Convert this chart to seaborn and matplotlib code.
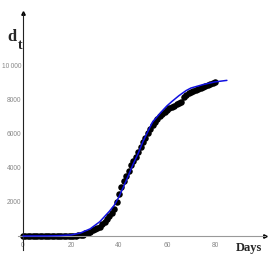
import numpy as np
import pandas as pd
import seaborn as sns
import matplotlib.pyplot as plt
from matplotlib.ticker import MultipleLocator

# observed cumulative values, day 0..80
days = list(range(0, 81))
observed = [0, 0, 0, 0, 0, 0, 0, 0, 0, 0,
            0, 0, 0, 0, 0, 0, 0, 0, 0, 0,
            5, 10, 20, 30, 50, 80, 150, 200, 260, 330,
            400, 470, 550, 680, 830, 1000, 1180, 1350, 1600, 2000,
            2450, 2900, 3250, 3550, 3850, 4150, 4400, 4650, 4950, 5250,
            5520, 5780, 6030, 6280, 6500, 6700, 6880, 7050, 7200, 7300,
            7400, 7500, 7580, 7660, 7740, 7820, 7900, 8150, 8300, 8380,
            8450, 8520, 8580, 8640, 8690, 8740, 8790, 8850, 8910, 8970,
            9030]

# fitted curve
fit_days = [0, 10, 15, 20, 24, 28, 32, 36, 38, 40, 43, 46, 48, 50, 54,
            58, 60, 62, 65, 68, 70, 75, 80, 85]
fit_vals = [0, 5, 20, 60, 180, 420, 840, 1450, 1800, 2300, 3250, 4250,
            4850, 5550, 6700, 7350, 7650, 7900, 8250, 8550, 8700, 8900,
            9060, 9150]

y_ticks = [2000, 4000, 6000, 8000, 10000]
y_tick_labels = ['2000', '4000', '6000', '8000', '10\u2009000']
x_ticks = [0, 20, 40, 60, 80]

df = pd.DataFrame({'day': days, 'value': observed})
fit = pd.DataFrame({'day': fit_days, 'value': fit_vals})

sns.set_style('white')
fig = plt.figure(figsize=(2.73, 2.73), dpi=100)
ax = fig.add_axes([0.0667, 0.0857, 0.905, 0.866])

sns.scatterplot(data=df, x='day', y='value', color='black', s=22,
                edgecolor='black', linewidth=0, ax=ax, zorder=2)
sns.lineplot(data=fit, x='day', y='value', color='#1010e0', linewidth=1.1,
             ax=ax, zorder=3)

ax.set_xlim(-2, 101)
ax.set_ylim(-800, 13100)
ax.spines['left'].set_position(('data', 0))
ax.spines['bottom'].set_position(('data', 0))
ax.spines['top'].set_visible(False)
ax.spines['right'].set_visible(False)
ax.spines['left'].set_color('#222222')
ax.spines['bottom'].set_color('#999999')
ax.spines['left'].set_linewidth(0.8)
ax.spines['bottom'].set_linewidth(0.8)

ax.set_xticks(x_ticks)
ax.set_xticklabels([str(t) for t in x_ticks])
ax.set_yticks(y_ticks)
ax.set_yticklabels(y_tick_labels)
ax.xaxis.set_minor_locator(MultipleLocator(5))
ax.yaxis.set_minor_locator(MultipleLocator(500))
ax.tick_params(axis='both', which='major', length=2.5, width=0.5,
               color='#999999', labelsize=4.8, labelcolor='#888888')
ax.tick_params(axis='both', which='minor', length=1.5, width=0.4,
               color='#999999')
ax.tick_params(axis='x', direction='inout', pad=3)
ax.tick_params(axis='y', direction='in', pad=1.2)
for lab in ax.get_xticklabels() + ax.get_yticklabels():
    lab.set_family('Liberation Sans')
ax.set_xlabel('')
ax.set_ylabel('')

# arrow heads
ax.plot(1, 0, '>', color='black', markersize=2.5,
        transform=ax.get_yaxis_transform(), clip_on=False)
ax.plot(0, 1, '^', color='black', markersize=2.5,
        transform=ax.get_xaxis_transform(), clip_on=False)

fig.text(0.042, 0.863, 'd', fontsize=12, fontweight='bold',
         family='Liberation Serif', ha='center', va='center')
fig.text(0.072, 0.835, 't', fontsize=10, fontweight='bold',
         family='Liberation Serif', ha='center', va='center')
fig.text(0.912, 0.092, 'Days', fontsize=9, fontweight='bold',
         family='Liberation Serif', ha='center', va='center')

fig.savefig('out.png', dpi=100)
